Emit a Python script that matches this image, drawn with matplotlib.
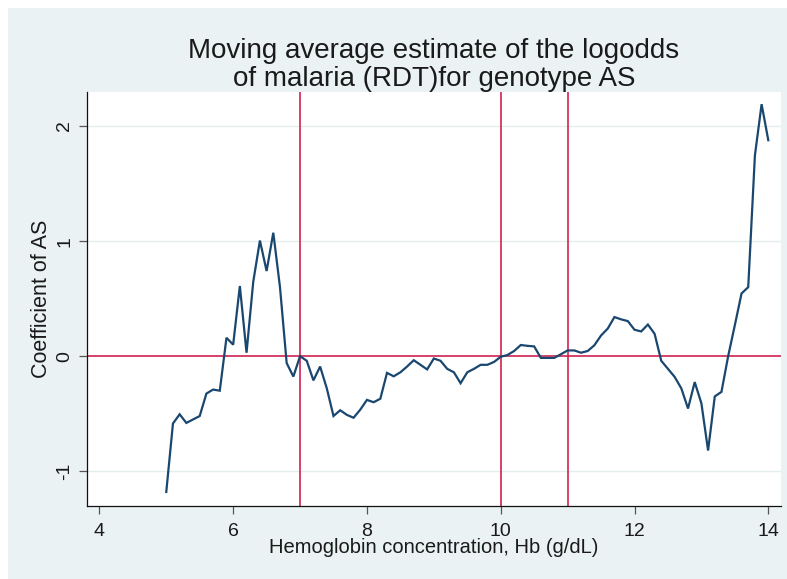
import matplotlib
matplotlib.use("Agg")
import matplotlib.pyplot as plt
from matplotlib.patches import Rectangle

plt.rcParams['font.family'] = ['Liberation Sans', 'DejaVu Sans']

# Hemoglobin (g/dL) and moving-average coefficient of AS
hb = [5.0, 5.1, 5.2, 5.3, 5.4, 5.5, 5.6, 5.7, 5.8, 5.9,
      6.0, 6.1, 6.2, 6.3, 6.4, 6.5, 6.6, 6.7, 6.8, 6.9,
      7.0, 7.1, 7.2, 7.3, 7.4, 7.5, 7.6, 7.7, 7.8, 7.9,
      8.0, 8.1, 8.2, 8.3, 8.4, 8.5, 8.6, 8.7, 8.8, 8.9,
      9.0, 9.1, 9.2, 9.3, 9.4, 9.5, 9.6, 9.7, 9.8, 9.9,
      10.0, 10.1, 10.2, 10.3, 10.4, 10.5, 10.6, 10.7, 10.8, 10.9,
      11.0, 11.1, 11.2, 11.3, 11.4, 11.5, 11.6, 11.7, 11.8, 11.9,
      12.0, 12.1, 12.2, 12.3, 12.4, 12.5, 12.6, 12.7, 12.8, 12.9,
      13.0, 13.1, 13.2, 13.3, 13.4, 13.5, 13.6, 13.7, 13.8, 13.9,
      14.0]
coef = [-1.18, -0.585, -0.505, -0.58, -0.55, -0.52, -0.325, -0.29, -0.30, 0.16,
        0.10, 0.61, 0.03, 0.645, 1.005, 0.74, 1.073, 0.60, -0.06, -0.177,
        0.0, -0.04, -0.21, -0.09, -0.28, -0.52, -0.47, -0.51, -0.535, -0.465,
        -0.38, -0.40, -0.37, -0.145, -0.175, -0.14, -0.09, -0.035, -0.075, -0.115,
        -0.02, -0.04, -0.11, -0.14, -0.235, -0.14, -0.11, -0.075, -0.075, -0.05,
        -0.005, 0.01, 0.045, 0.097, 0.09, 0.085, -0.015, -0.015, -0.015, 0.017,
        0.05, 0.05, 0.03, 0.045, 0.095, 0.18, 0.24, 0.34, 0.32, 0.305,
        0.23, 0.215, 0.275, 0.195, -0.04, -0.11, -0.18, -0.28, -0.455, -0.225,
        -0.41, -0.82, -0.35, -0.31, 0.0, 0.27, 0.545, 0.60, 1.745, 2.19,
        1.877]

xticks = [4, 6, 8, 10, 12, 14]
yticks = [-1, 0, 1, 2]
vlines = [7, 10, 11]
hline = 0

title = "Moving average estimate of the logodds\nof malaria (RDT)for genotype AS"
xlabel = "Hemoglobin concentration, Hb (g/dL)"
ylabel = "Coefficient of AS"

W, H = 787, 579
fig = plt.figure(figsize=(W / 100, H / 100), dpi=100)
fig.patch.set_facecolor('white')
bg = '#eaf2f3'
fig.patches.append(Rectangle((8 / W, 0), 1 - 8 / W, 1 - 8 / H, transform=fig.transFigure,
                             facecolor=bg, edgecolor='none', zorder=-10))

ax = fig.add_axes([87 / W, 1 - 506 / H, (781 - 87) / W, (506 - 92) / H])
ax.set_facecolor('white')

ax.set_xlim(3.815, 14.19)
ax.set_ylim(-1.302, 2.296)

for y in yticks:
    if y != 0:
        ax.axhline(y, color='#e4eeef', lw=1.0, zorder=1)

red = '#cf2350'
ax.axhline(hline, color=red, lw=1.2, zorder=2)
for v in vlines:
    ax.axvline(v, color=red, lw=1.2, zorder=2)

ax.plot(hb, coef, color='#1a476f', lw=1.6, zorder=3, solid_joinstyle='miter')

for s in ['top', 'right']:
    ax.spines[s].set_visible(False)
for s in ['left', 'bottom']:
    ax.spines[s].set_color('#111111')
    ax.spines[s].set_linewidth(0.9)

ax.set_xticks(xticks)
ax.set_yticks(yticks)
ax.set_yticklabels([str(t) for t in yticks], rotation=90, va='center')
ax.tick_params(axis='both', direction='out', length=5.5, width=0.9, color='#555555',
               labelsize=14, labelcolor='#1a1a1a')
ax.tick_params(axis='x', pad=6.5)
ax.tick_params(axis='y', pad=4.5)

ax.set_xlabel(xlabel, fontsize=14.5, color='#1a1a1a', labelpad=-1)
ax.set_ylabel(ylabel, fontsize=15.5, color='#1a1a1a', labelpad=3)
ax.set_title(title, fontsize=20, color='#1a1a1a', pad=3, linespacing=1.1)

fig.savefig('out.png', dpi=100, facecolor=fig.get_facecolor())
